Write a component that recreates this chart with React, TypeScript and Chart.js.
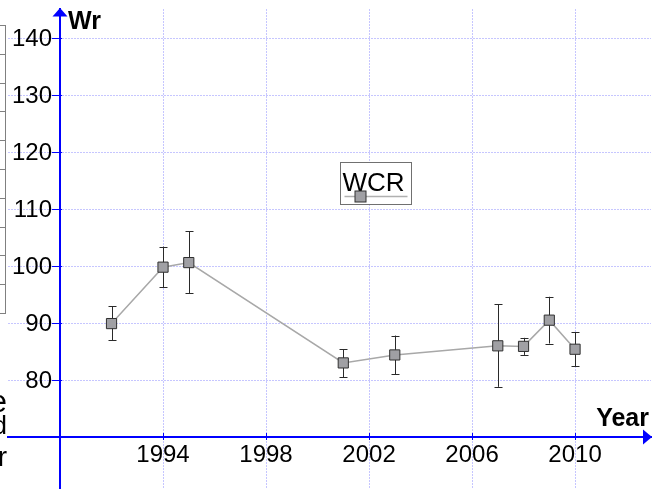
import React, { useEffect, useRef } from 'react';
import { Chart, registerables } from 'chart.js';

Chart.register(...registerables);

// ---- data ----
const years = [1992, 1994, 1995, 2001, 2003, 2007, 2008, 2009, 2010];
const wcr = [89.9, 99.8, 100.6, 83.0, 84.4, 86.0, 85.9, 90.5, 85.4];
const wcrLow = [87.0, 96.3, 95.2, 80.5, 81.0, 78.8, 84.4, 86.4, 82.4];
const wcrHigh = [92.9, 103.4, 106.1, 85.4, 87.8, 93.3, 87.4, 94.6, 88.4];
const xTicks = [1994, 1998, 2002, 2006, 2010];
const yTicks = [80, 90, 100, 110, 120, 130, 140];
const seriesName = 'WCR';
const xTitle = 'Year';
const yTitle = 'Wr';
const xAxisCross = 1990; // y axis sits at this year
const yAxisCross = 70; // x axis sits at this value
const leftLetters = ['e', 'd', 'r'];

const FONT = '"Liberation Sans", Arial, sans-serif';
const AXIS_BLUE = '#0000ff';
const GRID = '#c6c6ff';

const decorPlugin = {
  id: 'decor',
  beforeDatasetsDraw(chart: any) {
    const { ctx } = chart;
    const xs = chart.scales.x;
    const ys = chart.scales.y;
    ctx.save();
    ctx.strokeStyle = '#2a2a2a';
    ctx.lineWidth = 1;
    years.forEach((yr, i) => {
      const px = Math.round(xs.getPixelForValue(yr)) + 0.5;
      const pLo = ys.getPixelForValue(wcrLow[i]);
      const pHi = ys.getPixelForValue(wcrHigh[i]);
      ctx.beginPath();
      ctx.moveTo(px, pLo);
      ctx.lineTo(px, pHi);
      ctx.moveTo(px - 4, Math.round(pLo) + 0.5);
      ctx.lineTo(px + 4, Math.round(pLo) + 0.5);
      ctx.moveTo(px - 4, Math.round(pHi) + 0.5);
      ctx.lineTo(px + 4, Math.round(pHi) + 0.5);
      ctx.stroke();
    });
    ctx.restore();
  },
  afterDraw(chart: any) {
    const { ctx } = chart;
    const xs = chart.scales.x;
    const ys = chart.scales.y;
    const ax = xs.getPixelForValue(xAxisCross);
    const ay = ys.getPixelForValue(yAxisCross);
    ctx.save();

    // tick marks
    ctx.strokeStyle = AXIS_BLUE;
    ctx.lineWidth = 1;
    ctx.beginPath();
    yTicks.forEach((v) => {
      const py = Math.round(ys.getPixelForValue(v)) + 0.5;
      ctx.moveTo(ax - 8, py);
      ctx.lineTo(ax + 2, py);
    });
    xTicks.forEach((v) => {
      const px = Math.round(xs.getPixelForValue(v)) + 0.5;
      ctx.moveTo(px, ay - 4);
      ctx.lineTo(px, ay + 3);
    });
    ctx.stroke();

    // arrows
    ctx.fillStyle = AXIS_BLUE;
    ctx.beginPath();
    ctx.moveTo(ax, chart.chartArea.top - 1);
    ctx.lineTo(ax - 7.5, chart.chartArea.top + 7.5);
    ctx.lineTo(ax + 7.5, chart.chartArea.top + 7.5);
    ctx.closePath();
    ctx.fill();
    ctx.beginPath();
    ctx.moveTo(chart.chartArea.right + 1, ay);
    ctx.lineTo(chart.chartArea.right - 8, ay - 7.5);
    ctx.lineTo(chart.chartArea.right - 8, ay + 7.5);
    ctx.closePath();
    ctx.fill();

    // tick labels
    ctx.fillStyle = '#000';
    ctx.font = `24px ${FONT}`;
    ctx.textAlign = 'right';
    ctx.textBaseline = 'middle';
    yTicks.forEach((v) => {
      ctx.fillText(String(v), ax - 8, ys.getPixelForValue(v) + 1);
    });
    ctx.textAlign = 'center';
    ctx.textBaseline = 'alphabetic';
    xTicks.forEach((v) => {
      ctx.fillText(String(v), xs.getPixelForValue(v), ay + 25);
    });

    // axis titles
    ctx.font = `bold 25px ${FONT}`;
    ctx.textAlign = 'left';
    ctx.fillText(yTitle, ax + 8, 29);
    ctx.textAlign = 'right';
    ctx.fillText(xTitle, chart.chartArea.right - 2, ay - 11);

    // legend
    const lx = 340.5, ly = 162.5, lw = 71, lh = 42;
    ctx.fillStyle = '#ffffff';
    ctx.fillRect(lx, ly, lw, lh);
    ctx.strokeStyle = '#707070';
    ctx.lineWidth = 1;
    ctx.strokeRect(lx, ly, lw, lh);
    ctx.fillStyle = '#000';
    ctx.font = `26px ${FONT}`;
    ctx.textAlign = 'left';
    ctx.fillText(seriesName, lx + 2, ly + 28);
    ctx.strokeStyle = '#b0b0b0';
    ctx.lineWidth = 1.5;
    ctx.beginPath();
    ctx.moveTo(lx + 4, ly + 34);
    ctx.lineTo(lx + lw - 4, ly + 34);
    ctx.stroke();
    ctx.fillStyle = '#a0a0a4';
    ctx.strokeStyle = '#303030';
    ctx.lineWidth = 1;
    ctx.fillRect(lx + 14.5, ly + 28.5, 11, 11);
    ctx.strokeRect(lx + 14.5, ly + 28.5, 11, 11);

    // cropped neighbouring content on the left edge
    ctx.strokeStyle = '#808080';
    ctx.lineWidth = 1;
    ctx.beginPath();
    ctx.moveTo(5.5, 25);
    ctx.lineTo(5.5, 313);
    for (let i = 0; i <= 10; i++) {
      const yy = Math.round(25 + i * 28.8) + 0.5;
      ctx.moveTo(0, yy);
      ctx.lineTo(6, yy);
    }
    ctx.stroke();
    ctx.fillStyle = '#000';
    ctx.textAlign = 'right';
    ctx.textBaseline = 'alphabetic';
    const baselines = [412, 434, 466];
    const sizes = [31, 26, 28];
    leftLetters.forEach((t, i) => {
      ctx.font = `${sizes[i]}px ${FONT}`;
      ctx.fillText(t, 7, baselines[i]);
    });

    ctx.restore();
  },
};

export default function App() {
  const ref = useRef<HTMLCanvasElement | null>(null);
  useEffect(() => {
    if (!ref.current) return;
    const chart = new Chart(ref.current, {
      type: 'line',
      data: {
        datasets: [
          {
            label: seriesName,
            data: years.map((y, i) => ({ x: y, y: wcr[i] })),
            borderColor: '#a8a8a8',
            borderWidth: 1.5,
            pointStyle: 'rect',
            pointRadius: 7.2,
            pointBackgroundColor: '#a0a0a4',
            pointBorderColor: '#303030',
            pointBorderWidth: 1,
            tension: 0,
          },
        ],
      },
      options: {
        animation: false,
        responsive: false,
        devicePixelRatio: 1,
        layout: { autoPadding: false, padding: { left: 8, top: 9, right: 7, bottom: 0 } },
        plugins: { legend: { display: false }, tooltip: { enabled: false } },
        scales: {
          x: {
            type: 'linear',
            min: 1987.98,
            max: 2012.95,
            position: { y: yAxisCross } as any,
            afterBuildTicks: (axis: any) => {
              axis.ticks = xTicks.map((v) => ({ value: v }));
            },
            ticks: { display: false },
            grid: { color: GRID, lineWidth: 1, drawTicks: false },
            border: { color: AXIS_BLUE, width: 2, dash: [2, 1] },
          },
          y: {
            type: 'linear',
            min: 60.88,
            max: 145.09,
            position: { x: xAxisCross } as any,
            afterBuildTicks: (axis: any) => {
              axis.ticks = yTicks.map((v) => ({ value: v }));
            },
            ticks: { display: false },
            grid: { color: GRID, lineWidth: 1, drawTicks: false },
            border: { color: AXIS_BLUE, width: 2, dash: [2, 1] },
          },
        },
      },
      plugins: [decorPlugin],
    });
    return () => chart.destroy();
  }, []);
  return (
    <div style={{ position: 'absolute', left: 0, top: 0, width: 658, height: 489, background: '#fff', overflow: 'hidden' }}>
      <canvas ref={ref} width={658} height={489} style={{ display: 'block' }} />
    </div>
  );
}
